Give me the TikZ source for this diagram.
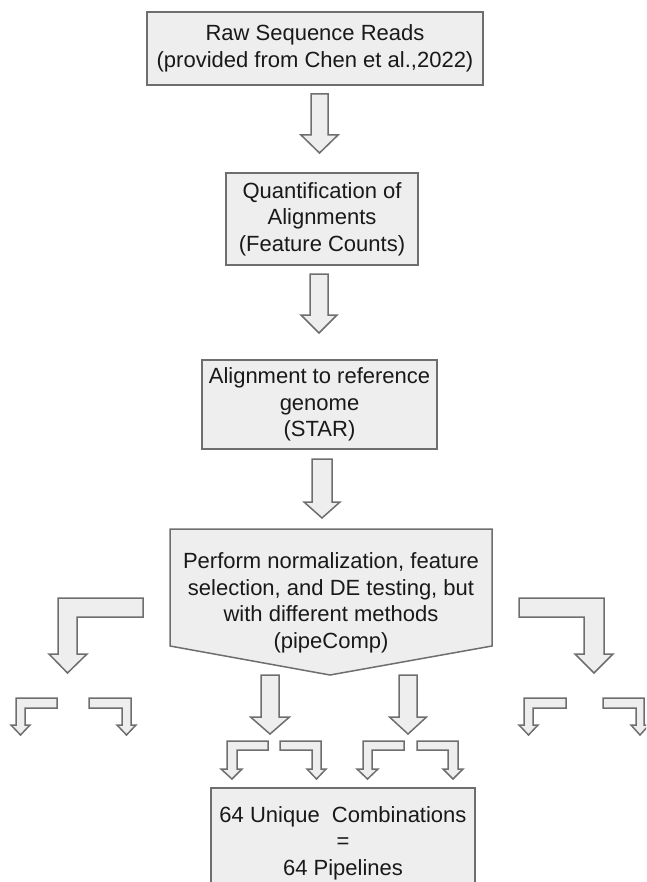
\documentclass[tikz,border=0pt]{standalone}
\usepackage{fontspec}
\setmainfont{Liberation Sans}

\definecolor{boxfill}{HTML}{EEEEEE}
\definecolor{boxline}{HTML}{6E6E6E}

\tikzset{
  boxtext/.style={align=center, inner sep=0pt, text=black!90, font=\fontsize{22}{26.5}\selectfont},
  flowbox/.style={boxtext, draw=boxline, fill=boxfill, line width=1.5pt},
  blockarrow/.style={draw=boxline, fill=boxfill, line width=1.5pt, line join=miter}
}

\begin{document}
\begin{tikzpicture}[x=1pt,y=-1pt]
\clip (0,0) rectangle (646,882);

\node[flowbox, minimum width=336, minimum height=73] (raw) at (315,48.5) {Raw Sequence Reads\\(provided from Chen et al.,2022)};
\node[flowbox, minimum width=192, minimum height=92] (quant) at (322,219) {Quantification of\\Alignments\\(Feature Counts)};
\node[flowbox, minimum width=235, minimum height=89] (align) at (319.5,404.5) {Alignment to reference\\genome\\(STAR)};

% pipeComp step, box with a point at the bottom
\filldraw[blockarrow] (170,529) -- (492,529) -- (492,646) -- (330,675) -- (170,646) -- cycle;
\node[boxtext] (pipe) at (331,603) {Perform normalization, feature\\selection, and DE testing, but\\with different methods\\(pipeComp)};

\node[flowbox, minimum width=264, minimum height=110] (combos) at (343,843) {64 Unique \ Combinations\\=\\64 Pipelines};

% straight block arrows
\foreach \x/\yt/\yh/\yb/\s/\w in {319.5/94/135/153/8.5/18.5, 319/274/315/333/9/18, 322/459/502/518/10/18, 270/675/717/734/9/19.5, 408/675/717/734/9/18.5}
  \filldraw[blockarrow] (\x-\s,\yt) -- (\x+\s,\yt) -- (\x+\s,\yh) -- (\x+\w,\yh) -- (\x,\yb) -- (\x-\w,\yh) -- (\x-\s,\yh) -- cycle;

% bent block arrows
\foreach \xe/\xo/\xi/\xp/\xq/\yt/\ym/\yh/\yb in {
    143/58/77/49/87/598/617/654/673, 519/604/584/613/575/598/617/654/673,
    57/16/25/11/30/698/708/725/735, 89/131/122/136/117/698/708/725/735,
    566/524/533/519/538/698/708/725/735, 603/644/636/649/631/698/708/725/735,
    268/227/237/221/242/741/750/769/779, 280/321/312/326/307/741/750/769/779,
    404/363/372/357/378/741/750/769/779, 417/458/448/463/443/741/750/769/779}
  \filldraw[blockarrow] (\xe,\yt) -- (\xo,\yt) -- (\xo,\yh) -- (\xp,\yh) -- ({(\xo+\xi)/2},\yb) -- (\xq,\yh) -- (\xi,\yh) -- (\xi,\ym) -- (\xe,\ym) -- cycle;
\end{tikzpicture}
\end{document}
